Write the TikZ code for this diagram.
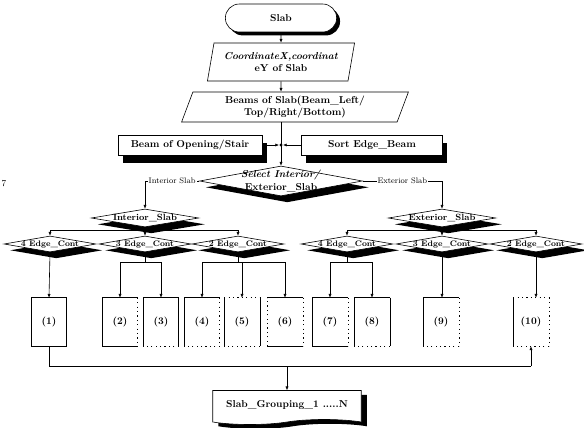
\documentclass[tikz,border=0pt]{standalone}
\usepackage{amsmath}
\usepackage{tikz}
\usetikzlibrary{shapes.geometric,shapes.misc,shapes.symbols,shadows,arrows.meta}

% one result cell, each side full or broken
\newcommand{\edgebox}[7]{%
  \node[cell] (#1) at (#2,322) {#3};
  \draw[#4] (#1.north west) -- (#1.north east);
  \draw[#5] (#1.north east) -- (#1.south east);
  \draw[#6] (#1.south east) -- (#1.south west);
  \draw[#7] (#1.south west) -- (#1.north west);
}

\begin{document}
\begin{tikzpicture}[x=0.035cm, y=-0.035cm, line width=0.6pt,
  >={Latex[length=1.3mm,width=1.1mm]},
  blackshadow/.style={drop shadow={shadow xshift=#1, shadow yshift=-#1, opacity=1, fill=black}},
  term/.style={rounded rectangle, draw, fill=white, minimum width=4.13cm, minimum height=0.98cm, font=\bfseries, blackshadow=0.12cm},
  io/.style={trapezium, trapezium left angle=#1, trapezium right angle=180-#1, trapezium stretches=true, draw, fill=white, align=center, font=\bfseries, inner sep=1pt},
  proc/.style={rectangle, draw, fill=white, minimum height=0.7cm, font=\bfseries, drop shadow={shadow xshift=0.17cm, shadow yshift=-0.28cm, opacity=1, fill=black}},
  decide/.style={diamond, draw, fill=white, inner sep=0pt, drop shadow={shadow xshift=0.22cm, shadow yshift=-0.22cm, opacity=1, fill=black}},
  lbl/.style={fill=white, inner sep=1pt, font=\footnotesize},
  cell/.style={rectangle, inner sep=0pt, minimum width=1.225cm, minimum height=1.68cm, font=\bfseries},
  fullside/.style={solid},
  brokenside/.style={dash pattern=on 1.2pt off 3.2pt},
  docbox/.style={tape, tape bend top=none, draw, fill=white, minimum width=5.2cm, minimum height=1.19cm, font=\bfseries, drop shadow={shadow xshift=0.2cm, shadow yshift=-0.15cm, opacity=1, fill=black}}]
\useasboundingbox (0,0) rectangle (584,428);

\node[font=\small] (pgnum) at (4,184) {7};

% top of the chart
\node[term] (slab) at (281,18) {Slab};
\node[io=75, minimum width=5.15cm, minimum height=1.33cm] (coord) at (281,62) {\textit{CoordinateX,coordinat}\\eY of Slab};
\node[io=72, minimum width=7.95cm, minimum height=1.05cm] (beams) at (295,107) {Beams of Slab(Beam\_Left/\\Top/Right/Bottom)};
\node[proc, minimum width=5.04cm] (opening) at (190,145) {Beam of Opening/Stair};
\node[proc, minimum width=4.94cm] (sortb) at (372,145) {Sort Edge\_Beam};
\node[circle, fill, inner sep=1.2pt] (jn) at (281,145) {};
\node[decide, minimum width=5.7cm, minimum height=1.05cm,
  label={[align=center, font=\bfseries]center:{\textit{Select Interior/}\\Exterior\_Slab}}] (select) at (281,181) {};

\draw[->] (slab) -- (coord);
\draw[->] (coord) -- (coord.south |- beams.north);
\draw[->] (beams.south -| select.north) -- (select.north);
\draw[->] (opening.east) -- (jn);
\draw[->] (sortb.west) -- (jn);

% interior / exterior
\node[decide, minimum width=3.75cm, minimum height=0.63cm, label={[font=\small\bfseries]center:Interior\_Slab}] (intsl) at (145,218) {};
\node[decide, minimum width=3.75cm, minimum height=0.63cm, label={[font=\small\bfseries]center:Exterior\_Slab}] (extsl) at (442,218) {};
\draw[->] (select.west) -| node[lbl, pos=0.25] {Interior Slab} (intsl.north);
\draw[->] (select.east) -| node[lbl, pos=0.25] {Exterior Slab} (extsl.north);

% edge continuity tests
\foreach \nm/\xx/\k in {ie4/50/4, ie3/145/3, ie2/238/2, ee4/347/4, ee3/442/3, ee2/536/2}
  \node[decide, minimum width=3.22cm, minimum height=0.56cm, label={[font=\footnotesize\bfseries]center:\k\ Edge\_Cont}] (\nm) at (\xx,244) {};

\coordinate (ib) at (145,230);
\coordinate (eb) at (442,230);
\draw (intsl.south) -- (ib);
\draw[->] (ib) -| (ie4.north);
\draw[->] (ib) -- (ie3.north);
\draw[->] (ib) -| (ie2.north);
\draw (extsl.south) -- (eb);
\draw[->] (eb) -| (ee4.north);
\draw[->] (eb) -- (ee3.north);
\draw[->] (eb) -| (ee2.north);

% result cells
\edgebox{b1}{49}{(1)}{fullside}{fullside}{fullside}{fullside}
\edgebox{b2}{120}{(2)}{fullside}{brokenside}{fullside}{fullside}
\edgebox{b3}{161}{(3)}{fullside}{fullside}{brokenside}{fullside}
\edgebox{b4}{202}{(4)}{fullside}{brokenside}{brokenside}{fullside}
\edgebox{b5}{242}{(5)}{brokenside}{fullside}{brokenside}{fullside}
\edgebox{b6}{285}{(6)}{fullside}{brokenside}{fullside}{brokenside}
\edgebox{b7}{330}{(7)}{fullside}{brokenside}{fullside}{fullside}
\edgebox{b8}{372}{(8)}{fullside}{fullside}{brokenside}{fullside}
\edgebox{b9}{441}{(9)}{fullside}{brokenside}{brokenside}{fullside}
\edgebox{b10}{531}{(10)}{brokenside}{brokenside}{brokenside}{fullside}

\coordinate (i3b) at (145,262);
\coordinate (i2b) at (238,262);
\coordinate (e4b) at (347,262);
\draw[->] (ie4.south) -- (b1.north);
\draw (ie3.south) -- (i3b);
\draw[->] (i3b) -| (b2.north);
\draw[->] (i3b) -| (b3.north);
\draw (ie2.south) -- (i2b);
\draw[->] (i2b) -| (b4.north);
\draw[->] (i2b) -| (b5.north);
\draw[->] (i2b) -| (b6.north);
\draw (ee4.south) -- (e4b);
\draw[->] (e4b) -| (b7.north);
\draw[->] (e4b) -| (b8.north);
\draw[->] (ee3.south) -- (ee3.south |- b9.north);
\draw[->] (ee2.south) -- (ee2.south |- b10.north);

% grouping
\node[docbox] (grp) at (287,405) {Slab\_Grouping\_1 .....N};
\coordinate (cl) at (49,366);
\coordinate (cr) at (531,366);
\draw (b1.south) -- (cl) -- (cr);
\draw[->] (cr) -- (b10.south);
\draw[->] (grp.north |- cl) -- (grp.north);
\end{tikzpicture}
\end{document}
